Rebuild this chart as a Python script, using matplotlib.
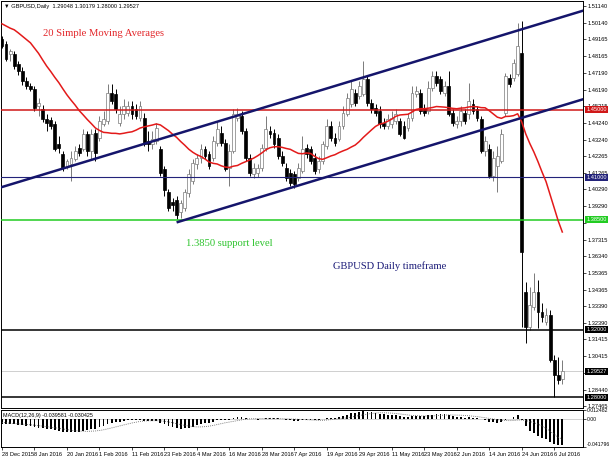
import numpy as np
import pandas as pd
import matplotlib
matplotlib.use('Agg')
import matplotlib.pyplot as plt

plt.rcParams['font.family'] = ['Liberation Sans', 'DejaVu Sans']

# GBPUSD daily bars, 28 Dec 2015 - 8 Jul 2016
opens = [1.4919, 1.4890, 1.4831, 1.4831, 1.4772, 1.4731, 1.4672, 1.4642, 1.4624, 1.4524,
         1.4506, 1.4447, 1.4441, 1.4418, 1.4300, 1.4241, 1.4170, 1.4182, 1.4211, 1.4276,
         1.4270, 1.4359, 1.4259, 1.4365, 1.4335, 1.4418, 1.4436, 1.4601, 1.4595, 1.4424,
         1.4477, 1.4483, 1.4524, 1.4506, 1.4453, 1.4453, 1.4318, 1.4300, 1.4318, 1.4270,
         1.4152, 1.4011, 1.3952, 1.3964, 1.3893, 1.3922, 1.4005, 1.4081, 1.4182, 1.4217,
         1.4270, 1.4241, 1.4217, 1.4306, 1.4365, 1.4306, 1.4158, 1.4259, 1.4453, 1.4465,
         1.4377, 1.4217, 1.4123, 1.4129, 1.4158, 1.4276, 1.4377, 1.4365, 1.4335, 1.4229,
         1.4158, 1.4129, 1.4123, 1.4099, 1.4140, 1.4276, 1.4270, 1.4217, 1.4152, 1.4200,
         1.4288, 1.4406, 1.4335, 1.4329, 1.4406, 1.4477, 1.4536, 1.4601, 1.4583, 1.4595,
         1.4683, 1.4542, 1.4512, 1.4495, 1.4424, 1.4406, 1.4418, 1.4436, 1.4436, 1.4406,
         1.4394, 1.4453, 1.4595, 1.4601, 1.4512, 1.4495, 1.4630, 1.4701, 1.4683, 1.4601,
         1.4642, 1.4483, 1.4418, 1.4436, 1.4483, 1.4477, 1.4536, 1.4506, 1.4447, 1.4259,
         1.4270, 1.4111, 1.4170, 1.4200, 1.4483, 1.4689, 1.4689, 1.4713, 1.4837, 1.3421,
         1.3214, 1.3332, 1.3421, 1.3303, 1.3244, 1.3285, 1.3019, 1.2931, 1.2905]
highs = [1.4937, 1.4908, 1.4860, 1.4849, 1.4789, 1.4754, 1.4695, 1.4660, 1.4642, 1.4571,
         1.4530, 1.4477, 1.4459, 1.4436, 1.4347, 1.4259, 1.4211, 1.4259, 1.4288, 1.4300,
         1.4388, 1.4377, 1.4388, 1.4388, 1.4465, 1.4495, 1.4654, 1.4654, 1.4624, 1.4524,
         1.4565, 1.4554, 1.4554, 1.4536, 1.4554, 1.4483, 1.4377, 1.4377, 1.4424, 1.4288,
         1.4170, 1.4034, 1.3981, 1.3993, 1.3964, 1.4034, 1.4152, 1.4211, 1.4241, 1.4300,
         1.4288, 1.4259, 1.4347, 1.4436, 1.4406, 1.4329, 1.4300, 1.4506, 1.4512, 1.4495,
         1.4394, 1.4241, 1.4188, 1.4182, 1.4300, 1.4465, 1.4406, 1.4388, 1.4359, 1.4259,
         1.4188, 1.4152, 1.4140, 1.4188, 1.4347, 1.4300, 1.4288, 1.4247, 1.4229, 1.4318,
         1.4447, 1.4436, 1.4365, 1.4436, 1.4524, 1.4601, 1.4672, 1.4624, 1.4672, 1.4789,
         1.4701, 1.4565, 1.4536, 1.4524, 1.4453, 1.4477, 1.4495, 1.4506, 1.4453, 1.4436,
         1.4483, 1.4642, 1.4642, 1.4624, 1.4536, 1.4672, 1.4731, 1.4731, 1.4701, 1.4672,
         1.4731, 1.4506, 1.4465, 1.4524, 1.4506, 1.4660, 1.4565, 1.4524, 1.4465, 1.4347,
         1.4300, 1.4259, 1.4288, 1.4388, 1.4719, 1.4713, 1.4801, 1.5014, 1.5026, 1.3480,
         1.3450, 1.3533, 1.3491, 1.3356, 1.3326, 1.3314, 1.3049, 1.3037, 1.3018]
lows = [1.4866, 1.4789, 1.4789, 1.4742, 1.4707, 1.4648, 1.4624, 1.4613, 1.4495, 1.4465,
        1.4430, 1.4377, 1.4388, 1.4259, 1.4247, 1.4140, 1.4152, 1.4081, 1.4200, 1.4229,
        1.4259, 1.4229, 1.4211, 1.4200, 1.4318, 1.4406, 1.4418, 1.4536, 1.4483, 1.4406,
        1.4447, 1.4465, 1.4447, 1.4447, 1.4436, 1.4288, 1.4259, 1.4270, 1.4300, 1.4111,
        1.3993, 1.3904, 1.3904, 1.3857, 1.3863, 1.3904, 1.3987, 1.4064, 1.4152, 1.4188,
        1.4211, 1.4152, 1.4200, 1.4288, 1.4288, 1.4140, 1.4052, 1.4247, 1.4436, 1.4359,
        1.4200, 1.4111, 1.4099, 1.4105, 1.4140, 1.4259, 1.4335, 1.4276, 1.4211, 1.4170,
        1.4081, 1.4052, 1.4040, 1.4081, 1.4129, 1.4217, 1.4182, 1.4123, 1.4129, 1.4182,
        1.4270, 1.4318, 1.4288, 1.4318, 1.4388, 1.4465, 1.4518, 1.4524, 1.4565, 1.4583,
        1.4524, 1.4483, 1.4465, 1.4394, 1.4388, 1.4388, 1.4394, 1.4418, 1.4347, 1.4329,
        1.4377, 1.4436, 1.4577, 1.4477, 1.4465, 1.4477, 1.4613, 1.4642, 1.4595, 1.4583,
        1.4465, 1.4406, 1.4394, 1.4406, 1.4418, 1.4447, 1.4477, 1.4436, 1.4247, 1.4229,
        1.4099, 1.4081, 1.4011, 1.4188, 1.4465, 1.4636, 1.4672, 1.4701, 1.3214, 1.3120,
        1.3196, 1.3314, 1.3208, 1.3244, 1.3226, 1.3007, 1.2801, 1.2878, 1.2878]
closes = [1.4878, 1.4801, 1.4849, 1.4760, 1.4731, 1.4672, 1.4642, 1.4624, 1.4512, 1.4542,
          1.4447, 1.4424, 1.4406, 1.4270, 1.4276, 1.4158, 1.4200, 1.4217, 1.4259, 1.4247,
          1.4359, 1.4259, 1.4359, 1.4247, 1.4436, 1.4447, 1.4601, 1.4554, 1.4506, 1.4477,
          1.4524, 1.4524, 1.4477, 1.4465, 1.4524, 1.4300, 1.4300, 1.4329, 1.4394, 1.4129,
          1.4023, 1.3922, 1.3934, 1.3875, 1.3946, 1.4011, 1.4123, 1.4188, 1.4217, 1.4270,
          1.4229, 1.4170, 1.4318, 1.4388, 1.4306, 1.4152, 1.4259, 1.4477, 1.4477, 1.4377,
          1.4217, 1.4129, 1.4158, 1.4158, 1.4276, 1.4388, 1.4359, 1.4300, 1.4229, 1.4188,
          1.4099, 1.4070, 1.4064, 1.4158, 1.4270, 1.4241, 1.4200, 1.4140, 1.4200, 1.4300,
          1.4406, 1.4335, 1.4306, 1.4406, 1.4483, 1.4571, 1.4624, 1.4542, 1.4642, 1.4683,
          1.4542, 1.4506, 1.4483, 1.4418, 1.4406, 1.4447, 1.4453, 1.4477, 1.4359, 1.4335,
          1.4453, 1.4601, 1.4613, 1.4495, 1.4483, 1.4630, 1.4701, 1.4660, 1.4613, 1.4642,
          1.4477, 1.4424, 1.4436, 1.4495, 1.4436, 1.4554, 1.4495, 1.4453, 1.4259, 1.4318,
          1.4111, 1.4217, 1.4229, 1.4359, 1.4701, 1.4654, 1.4778, 1.4878, 1.3657, 1.3214,
          1.3344, 1.3421, 1.3303, 1.3273, 1.3285, 1.3019, 1.2931, 1.2901, 1.2953]

# closes before the first visible bar (seed for SMA / MACD)
prior_closes = [1.5235, 1.5230, 1.5214, 1.5260, 1.5272, 1.5200, 1.5130, 1.5110, 1.5114, 1.5060,
                1.5030, 1.5062, 1.5098, 1.4952, 1.5093, 1.5067, 1.5034, 1.5020, 1.5137, 1.5164,
                1.5213, 1.5162, 1.5045, 1.4960, 1.4912, 1.4895, 1.4904, 1.4838, 1.4839, 1.4896]

# horizontal levels and their colours
levels = [1.45000, 1.41000, 1.38500, 1.32000, 1.28000]
level_colors = ['#d01818', '#23237a', '#22cc22', '#000000', '#000000']
bid_price = 1.29527

# price scale labels as shown by the terminal (those hidden under boxes left blank)
price_ticks = [1.51140, 1.50140, 1.49165, 1.48165, 1.47190, 1.46190, 1.45215, 1.44240,
               1.43240, 1.42265, 1.41265, 1.40290, 1.39290, 1.38315, 1.37315, 1.36340,
               1.35365, 1.34365, 1.33390, 1.32390, 1.31415, 1.30415, 1.29440, 1.28440,
               1.27465]
hidden_ticks = [1.38315, 1.29440]
macd_max, macd_min = 0.012482, -0.041796

# trend channel anchors (bar index, price)
channel_upper = [(-1, 1.4036), (145, 1.5100)]
channel_lower = [(43, 1.3834), (145, 1.4576)]

dates = pd.bdate_range('2015-12-28', '2016-07-08')
dates = dates[dates != pd.Timestamp('2016-01-01')]

o = np.array(opens)
h = np.array(highs)
l = np.array(lows)
c = np.array(closes)
x = np.arange(len(c))
n_prior = len(prior_closes)

allc = pd.Series(prior_closes + closes)
sma20 = allc.rolling(20).mean().values[n_prior:]
macd_all = allc.ewm(span=12, adjust=False).mean() - allc.ewm(span=26, adjust=False).mean()
signal = macd_all.rolling(9).mean().values[n_prior:]
macd = macd_all.values[n_prior:]

W, H = 610, 457
SMALL = 4.1
fig = plt.figure(figsize=(W / 100, H / 100), dpi=100)
ax = fig.add_axes([1 / W, (H - 408) / H, 582 / W, 407 / H])
axm = fig.add_axes([1 / W, (H - 447) / H, 582 / W, 37 / H], sharex=ax)

xmin, xmax = -0.25, 143.1
ymin, ymax = 1.27363, 1.51435

# candles
up = c >= o
ax.vlines(x[up], l[up], h[up], color='#7a7a7a', lw=0.7, zorder=2)
ax.vlines(x[~up], l[~up], h[~up], color='black', lw=0.7, zorder=2)
ax.bar(x[up], c[up] - o[up], bottom=o[up], width=0.7, color='white',
       edgecolor='#7a7a7a', lw=0.5, zorder=3)
ax.bar(x[~up], o[~up] - c[~up], bottom=c[~up], width=0.7, color='black',
       edgecolor='black', lw=0.5, zorder=3)

# 20 SMA
ax.plot(x, sma20, color='#e31a1a', lw=1.1, zorder=5)

# horizontal levels
for lv, col in zip(levels, level_colors):
    lw = 0.8 if lv == 1.41 else 1.1
    ax.axhline(lv, color=col, lw=lw, zorder=4)
ax.axhline(bid_price, color='#c8c8c8', lw=0.6, zorder=1)

# channel
for line in (channel_upper, channel_lower):
    (x0, p0), (x1, p1) = line
    ax.plot([x0, x1], [p0, p1], color='#15156b', lw=1.8, zorder=5,
            solid_capstyle='butt')

# notes
ax.text(10.2, 1.4950, '20 Simple Moving Averages', color='#e3262a',
        family='Liberation Serif', fontsize=7.7, va='center')
ax.text(45.2, 1.3707, '1.3850 support level', color='#2ec42e',
        family='Liberation Serif', fontsize=7.7, va='center')
ax.text(81.5, 1.3578, 'GBPUSD Daily timeframe', color='#1b1b78',
        family='Liberation Serif', fontsize=7.6, va='center')
ax.text(0.006, 0.992, '\u25bc GBPUSD,Daily  1.29048 1.30179 1.28000 1.29527',
        transform=ax.transAxes, fontsize=SMALL, va='top', ha='left',
        family=['Liberation Sans', 'DejaVu Sans'])

ax.set_xlim(xmin, xmax)
ax.set_ylim(ymin, ymax)
ax.yaxis.tick_right()
ax.set_yticks(price_ticks)
ax.set_yticklabels(['' if t in hidden_ticks else f'{t:.5f}' for t in price_ticks])
ax.tick_params(axis='y', labelsize=SMALL, length=2, width=0.5, pad=1.5)
ax.tick_params(axis='x', bottom=False, labelbottom=False)

# level price boxes on the scale
trans = ax.get_yaxis_transform()
for lv, col in list(zip(levels, level_colors)) + [(bid_price, '#000000')]:
    ax.text(1.006, lv, f'{lv:.5f}', transform=trans, fontsize=SMALL, color='white',
            ha='left', va='center', clip_on=False, zorder=10,
            bbox=dict(boxstyle='square,pad=0.2', fc=col, ec='none'))

# MACD
axm.bar(x, macd, width=0.45, color='black', zorder=3)
axm.plot(x, signal, color='#555555', lw=0.6, ls=(0, (1, 1.5)), zorder=4)
axm.axhline(0, color='#b0b0b0', lw=0.4, zorder=1)
axm.set_ylim(macd_min, macd_max)
axm.yaxis.tick_right()
axm.set_yticks([macd_max, 0, macd_min])
axm.set_yticklabels([f'{macd_max:.6f}', '0.00', f'{macd_min:.6f}'])
axm.tick_params(axis='y', labelsize=SMALL - 0.4, length=2, width=0.5, pad=1.0)
axm.get_yticklabels()[-1].set_va('bottom')
axm.text(0.004, 0.93, f'MACD(12,26,9) {macd[-1]:.6f} {signal[-1]:.6f}',
         transform=axm.transAxes, fontsize=SMALL - 0.2, va='top', ha='left')

tick_idx = list(range(0, len(x), 8))
axm.set_xticks(tick_idx)
axm.set_xticklabels([f'{dates[i].day} {dates[i].strftime("%b %Y")}' for i in tick_idx],
                    ha='left')
axm.tick_params(axis='x', labelsize=SMALL, length=2, width=0.5, pad=1.5)

for a in (ax, axm):
    for s in a.spines.values():
        s.set_color('black')
        s.set_linewidth(0.7)

fig.savefig('out.png', dpi=100, facecolor='white')
